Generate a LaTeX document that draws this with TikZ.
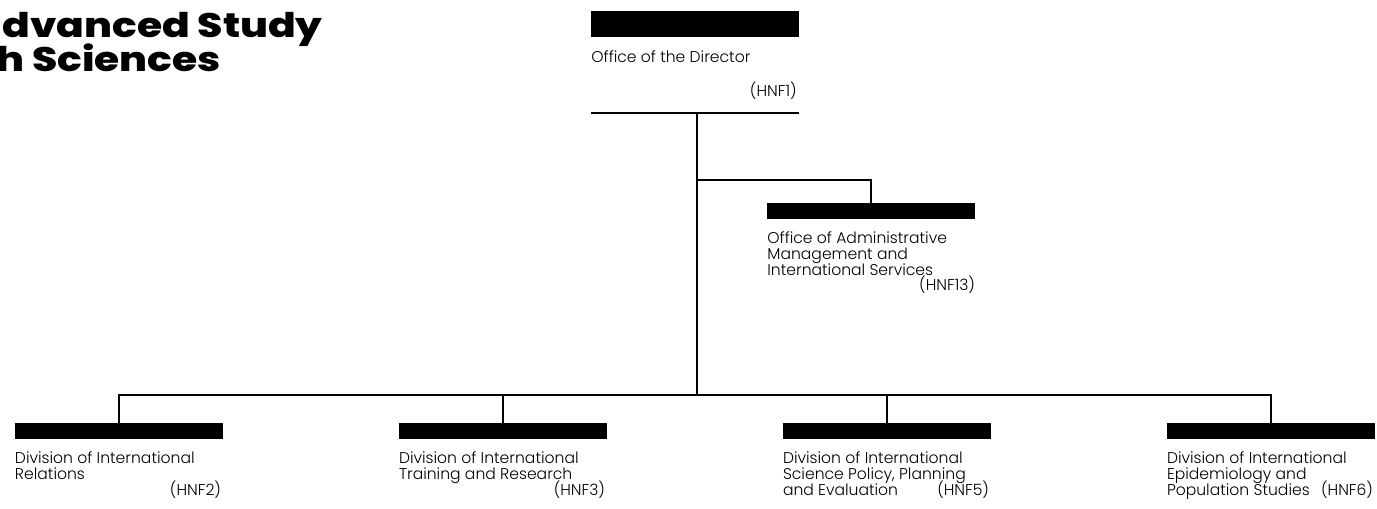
\documentclass[tikz,border=0pt]{standalone}
\usepackage{fontspec}
\setmainfont{Poppins}[UprightFont=* Light]
\newfontfamily\titlefont{Poppins}[UprightFont=* ExtraBold]
\usetikzlibrary{positioning}
\tikzset{
  bar/.style={fill=black, inner sep=0pt, minimum width=104pt, minimum height=8pt},
  unitname/.style={anchor=north west, inner sep=0pt, align=left, font=\fontsize{7.8}{8}\selectfont},
  code/.style={anchor=base east, inner sep=0pt, font=\fontsize{7.8}{8}\selectfont},
  heading/.style={anchor=base west, inner sep=0pt, font=\titlefont\fontsize{17}{20}\selectfont},
  link/.style={line width=0.6pt}
}
\begin{document}
\begin{tikzpicture}[x=0.5pt, y=-0.5pt]
\useasboundingbox (0,0) rectangle (1377,509);
% title
\node[heading] (title1) at (2,37) {\scalebox{1.2}[1]{dvanced Study}};
\node[heading] (title2) at (-4,71) {\scalebox{1.2}[1]{h Sciences}};
% director
\node[bar, minimum height=13pt] (dir) at (695,23.5) {};
\node[unitname] (dirname) at (591,50) {Office of the Director};
\node[code] (dircode) at (797,96) {(HNF1)};
\coordinate (rulew) at (591,113);
\coordinate (rulee) at (799,113);
\coordinate (trunk) at (697,113);
\coordinate (side) at (697,180);
\coordinate (fork) at (697,395);
\draw[link] (rulew) -- (rulee);
\draw[link] (trunk) -- (fork);
% administration
\node[bar] (adm) at (871,211) {};
\node[unitname] (admname) at (767,231) {Office of Administrative\\Management and\\International Services};
\node[code] (admcode) at (adm.east |- 0,290) {(HNF13)};
\draw[link] (side) -| (adm.north);
% divisions
\foreach \n/\x in {2/119, 3/503, 5/887, 6/1271}{
  \node[bar] (div\n) at (\x,431) {};
}
\node[unitname] (div2name) at (div2.west |- 0,451) {Division of International\\Relations};
\node[unitname] (div3name) at (div3.west |- 0,451) {Division of International\\Training and Research};
\node[unitname] (div5name) at (div5.west |- 0,451) {Division of International\\Science Policy, Planning\\and Evaluation};
\node[unitname] (div6name) at (div6.west |- 0,451) {Division of International\\Epidemiology and\\Population Studies};
\foreach \n in {2,3,5,6}{
  \node[code] (div\n code) at ([xshift=-1pt]div\n.east |- 0,495) {(HNF\n)};
}
\draw[link] (div2.north) |- (fork) -| (div6.north);
\draw[link] (div3.north) -- (div3.north |- fork);
\draw[link] (div5.north) -- (div5.north |- fork);
\end{tikzpicture}
\end{document}
